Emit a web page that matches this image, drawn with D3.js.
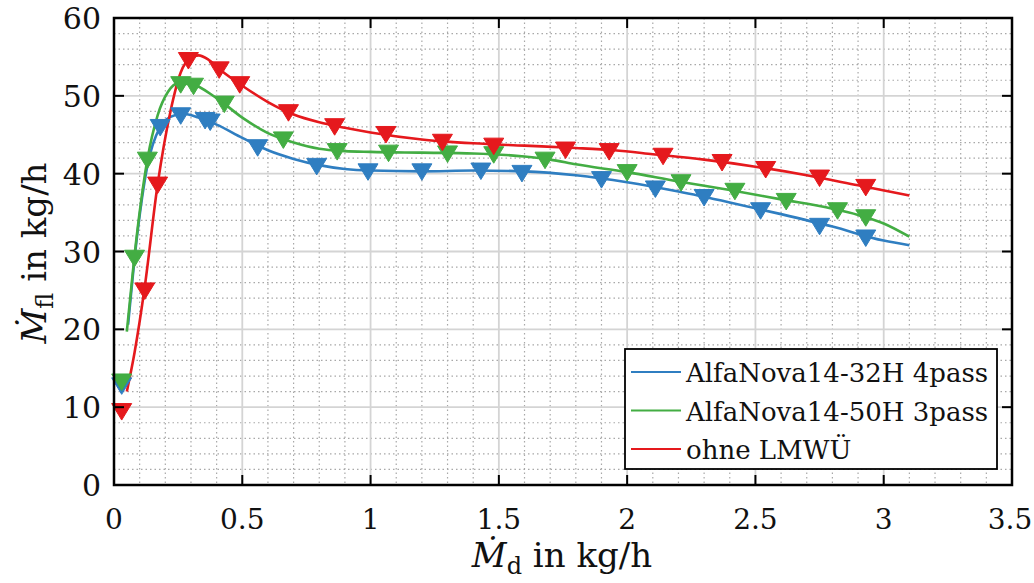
<html>
  <head>
    <title>Mfl over Md</title>
    <script type="text/javascript" src="https://cdn.jsdelivr.net/npm/d3@7/dist/d3.min.js"></script>
    <style>
      body { margin: 0; background: #fff; }
    </style>
  </head>
  <body>
    <svg id="chart" width="1034" height="583" font-family="'DejaVu Serif', 'Liberation Serif', serif"></svg>
    <script type="text/javascript">
      // values
      var seriesNames = ["AlfaNova14-32H 4pass", "AlfaNova14-50H 3pass", "ohne LMWÜ"];
      var seriesColors = ["#2f7ec1", "#43ad43", "#e5191d"];

      var xTicks = [0, 0.5, 1, 1.5, 2, 2.5, 3, 3.5];
      var yTicks = [0, 10, 20, 30, 40, 50, 60];

      // markers (measured points)
      var blueMarkers = [[0.03,12.8],[0.18,46.0],[0.26,47.5],[0.355,46.9],[0.375,46.7],[0.56,43.4],[0.79,41.0],[0.99,40.3],[1.2,40.3],[1.43,40.4],[1.59,40.1],[1.9,39.3],[2.11,38.1],[2.3,37.0],[2.52,35.3],[2.75,33.3],[2.93,31.8]];
      var greenMarkers = [[0.03,13.3],[0.08,29.2],[0.13,41.8],[0.26,51.5],[0.31,51.3],[0.43,49.0],[0.66,44.4],[0.87,42.9],[1.07,42.7],[1.3,42.6],[1.48,42.5],[1.68,41.8],[2.0,40.2],[2.21,38.9],[2.42,37.8],[2.62,36.5],[2.82,35.3],[2.93,34.4]];
      var redMarkers = [[0.03,9.5],[0.12,25.0],[0.17,38.6],[0.29,54.6],[0.41,53.4],[0.49,51.5],[0.68,47.9],[0.86,46.1],[1.06,45.1],[1.28,44.1],[1.48,43.6],[1.76,43.1],[1.93,42.9],[2.14,42.3],[2.37,41.5],[2.54,40.6],[2.75,39.5],[2.93,38.3]];

      // fitted curves
      var blueCurve = [[0.055,20.6],[0.09,32],[0.13,41],[0.18,46],[0.22,47.3],[0.27,47.7],[0.33,47.2],[0.4,46.3],[0.5,44.6],[0.6,43],[0.7,41.9],[0.8,41.1],[0.9,40.6],[1.0,40.4],[1.2,40.3],[1.4,40.4],[1.6,40.3],[1.8,39.8],[2.0,38.9],[2.2,37.7],[2.4,36.3],[2.6,34.8],[2.8,33.2],[3.0,31.4],[3.1,30.8]];
      var greenCurve = [[0.05,19.7],[0.08,29.5],[0.13,41.8],[0.17,47.5],[0.21,50.5],[0.25,51.6],[0.3,51.5],[0.4,49.7],[0.5,47.2],[0.6,45.2],[0.7,44.0],[0.8,43.2],[0.9,42.9],[1.0,42.8],[1.2,42.7],[1.4,42.6],[1.6,42.2],[1.7,41.8],[1.8,41.2],[2.0,40.2],[2.2,39.0],[2.4,37.9],[2.6,36.7],[2.8,35.5],[2.9,34.7],[3.0,33.6],[3.1,31.9]];
      var redCurve = [[0.05,12],[0.08,17],[0.12,25.5],[0.17,38.6],[0.22,48],[0.26,53],[0.3,54.9],[0.33,55.2],[0.37,54.6],[0.42,53.2],[0.5,51.3],[0.6,49.2],[0.7,47.6],[0.8,46.6],[0.9,45.9],[1.0,45.3],[1.2,44.4],[1.4,43.9],[1.6,43.6],[1.8,43.3],[1.95,43.0],[2.1,42.5],[2.3,41.8],[2.5,40.9],[2.7,39.8],[2.9,38.5],[3.1,37.2]];

      var curves = [blueCurve, greenCurve, redCurve];
      var markers = [blueMarkers, greenMarkers, redMarkers];

      function ready(fn) {
        if (document.readyState != 'loading'){ fn() }
        else { document.addEventListener('DOMContentLoaded', fn) }
      }
      ready(draw);

      function draw() {
        var svg = d3.select("#chart");
        var left = 114, right = 1012, top = 18, bottom = 485;

        var x = d3.scaleLinear().domain([0, 3.5]).range([left, right]);
        var y = d3.scaleLinear().domain([0, 60]).range([bottom, top]);

        svg.append("rect").attr("width", 1034).attr("height", 583).attr("fill", "#fff");

        // minor grid (dotted)
        var minorX = d3.range(0, 3.5001, 0.1).filter(function(v) { return Math.abs(v * 2 - Math.round(v * 2)) > 1e-6; });
        var minorY = d3.range(0, 60.001, 2).filter(function(v) { return v % 10 != 0; });
        var grid = svg.append("g");
        grid.selectAll(".mx").data(minorX).enter().append("line")
          .attr("x1", x).attr("x2", x).attr("y1", top).attr("y2", bottom)
          .attr("stroke", "#a8a8a8").attr("stroke-width", 1.2).attr("stroke-dasharray", "1.5,3");
        grid.selectAll(".my").data(minorY).enter().append("line")
          .attr("y1", y).attr("y2", y).attr("x1", left).attr("x2", right)
          .attr("stroke", "#a8a8a8").attr("stroke-width", 1.2).attr("stroke-dasharray", "1.5,3");
        // major grid
        grid.selectAll(".gx").data(xTicks).enter().append("line")
          .attr("x1", x).attr("x2", x).attr("y1", top).attr("y2", bottom)
          .attr("stroke", "#d4d4d4").attr("stroke-width", 1.8);
        grid.selectAll(".gy").data(yTicks).enter().append("line")
          .attr("y1", y).attr("y2", y).attr("x1", left).attr("x2", right)
          .attr("stroke", "#d4d4d4").attr("stroke-width", 1.8);

        // curves
        var line = d3.line()
          .x(function(d) { return x(d[0]); })
          .y(function(d) { return y(d[1]); })
          .curve(d3.curveMonotoneX);
        svg.append("g").selectAll("path").data(curves).enter().append("path")
          .attr("d", line)
          .attr("fill", "none")
          .attr("stroke", function(d, i) { return seriesColors[i]; })
          .attr("stroke-width", 2.6);

        // triangle markers pointing down
        var tri = "M-10,-7.5L10,-7.5L0,9Z";
        markers.forEach(function(m, i) {
          svg.append("g").selectAll("path").data(m).enter().append("path")
            .attr("d", tri)
            .attr("transform", function(d) { return "translate(" + x(d[0]) + "," + y(d[1]) + ")"; })
            .attr("fill", seriesColors[i])
            .attr("stroke", seriesColors[i])
            .attr("stroke-width", 1);
        });

        // axes with inward ticks on all four sides
        var tickLen = 10;
        var ax = svg.append("g").attr("stroke", "#000").attr("stroke-width", 2);
        ax.selectAll(".tb").data(xTicks).enter().append("line")
          .attr("x1", x).attr("x2", x).attr("y1", bottom).attr("y2", bottom - tickLen);
        ax.selectAll(".tt").data(xTicks).enter().append("line")
          .attr("x1", x).attr("x2", x).attr("y1", top).attr("y2", top + tickLen);
        ax.selectAll(".tl").data(yTicks).enter().append("line")
          .attr("y1", y).attr("y2", y).attr("x1", left).attr("x2", left + tickLen);
        ax.selectAll(".tr").data(yTicks).enter().append("line")
          .attr("y1", y).attr("y2", y).attr("x1", right).attr("x2", right - tickLen);
        svg.append("rect")
          .attr("x", left).attr("y", top).attr("width", right - left).attr("height", bottom - top)
          .attr("fill", "none").attr("stroke", "#000").attr("stroke-width", 2.5);

        // tick labels
        svg.append("g").selectAll("text").data(xTicks).enter().append("text")
          .attr("x", function(d) { return Math.min(x(d), 1010); }).attr("y", bottom + 44)
          .attr("text-anchor", "middle").attr("font-size", 28).attr("fill", "#111")
          .text(function(d) { return d; });
        svg.append("g").selectAll("text").data(yTicks).enter().append("text")
          .attr("x", left - 13).attr("y", function(d) { return y(d) + 11; })
          .attr("text-anchor", "end").attr("font-size", 30).attr("fill", "#111")
          .text(function(d) { return d; });

        // axis labels
        var xl = svg.append("text").attr("x", 562).attr("y", 567)
          .attr("text-anchor", "middle").attr("font-size", 34).attr("fill", "#111");
        xl.append("tspan").attr("font-style", "italic").text("Ṁ");
        xl.append("tspan").attr("font-size", 24).attr("dy", 7).text("d");
        xl.append("tspan").attr("dy", -7).text(" in kg/h");

        var yl = svg.append("text").attr("transform", "translate(46,253) rotate(-90)")
          .attr("text-anchor", "middle").attr("font-size", 34).attr("fill", "#111");
        yl.append("tspan").attr("font-style", "italic").text("Ṁ");
        yl.append("tspan").attr("font-size", 24).attr("dy", 7).text("fl");
        yl.append("tspan").attr("dy", -7).text(" in kg/h");

        // legend
        var lg = svg.append("g");
        lg.append("rect").attr("x", 625).attr("y", 349).attr("width", 372).attr("height", 120)
          .attr("fill", "#fff").attr("stroke", "#000").attr("stroke-width", 1.8);
        var rows = lg.selectAll("g").data(seriesNames).enter().append("g")
          .attr("transform", function(d, i) { return "translate(0," + (372 + i * 38.5) + ")"; });
        rows.append("line").attr("x1", 631).attr("x2", 681).attr("y1", 0).attr("y2", 0)
          .attr("stroke", function(d, i) { return seriesColors[i]; }).attr("stroke-width", 2.2);
        rows.append("text").attr("x", 686).attr("y", 10).attr("font-size", 26).attr("fill", "#111")
          .text(function(d) { return d; });
      }
    </script>
  </body>
</html>
